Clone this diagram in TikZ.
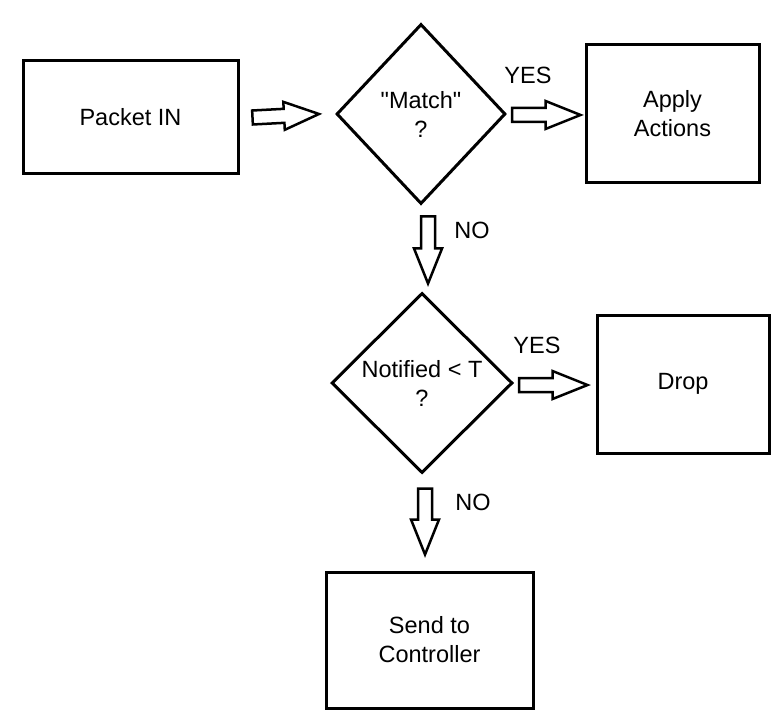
\documentclass[tikz,border=0pt]{standalone}
\usepackage{fontspec}
\setmainfont{Liberation Sans}
\usetikzlibrary{shapes.geometric,calc}

\tikzset{
  txt/.style={font=\fontsize{23.5}{29}\selectfont, align=center},
  block/.style={txt, draw, line width=3pt, inner sep=0pt},
  decision/.style={txt, draw, diamond, line width=3pt, inner sep=0pt},
  fatarrow/.style={draw, fill=white, line width=2.5pt, line join=miter,
    to path={
      ($(\tikztostart)!7pt!90:(\tikztotarget)$)
      -- ($(\tikztotarget)!35pt!(\tikztostart)!7pt!-90:(\tikztostart)$)
      -- ($(\tikztotarget)!35pt!(\tikztostart)!14pt!-90:(\tikztostart)$)
      -- (\tikztotarget)
      -- ($(\tikztotarget)!35pt!(\tikztostart)!14pt!90:(\tikztostart)$)
      -- ($(\tikztotarget)!35pt!(\tikztostart)!7pt!90:(\tikztostart)$)
      -- ($(\tikztostart)!7pt!-90:(\tikztotarget)$)
      -- cycle}},
}

\begin{document}
\begin{tikzpicture}[x=1pt,y=-1pt]
  \useasboundingbox (0,0) rectangle (784,719);

  % Boxes and decisions
  \node[block, minimum width=215pt, minimum height=113pt] (pin) at (130.5,117.5) {Packet IN};
  \node[decision, minimum width=169pt, minimum height=180pt] (match) at (421,114) {\textquotedbl Match\textquotedbl\\?};
  \node[block, minimum width=173pt, minimum height=138pt] (apply) at (672.5,114) {Apply\\Actions};
  \node[decision, minimum width=181pt, minimum height=180pt] (notif) at (422,383) {Notified < T\\?};
  \node[block, minimum width=172pt, minimum height=138pt] (drop) at (683,384) {Drop};
  \node[block, minimum width=207pt, minimum height=136pt] (ctrl) at (429.5,640) {Send to\\Controller};

  % End points of the block arrows (shifts are in canvas pt, up is +)
  \coordinate (a1s) at ([xshift=13]pin.east);
  \coordinate (a1e) at ([xshift=-16]match.west);
  \coordinate (a2s) at ([xshift=5,yshift=-1]match.east);
  \coordinate (a2e) at ([xshift=-4,yshift=-1]apply.west);
  \coordinate (a3s) at ([xshift=7,yshift=-11]match.south);
  \coordinate (a3e) at ([xshift=6,yshift=8]notif.north);
  \coordinate (a4s) at ([xshift=5,yshift=-2]notif.east);
  \coordinate (a4e) at ([xshift=-8,yshift=-1]drop.west);
  \coordinate (a5s) at ([xshift=3,yshift=-14]notif.south);
  \coordinate (a5e) at ([xshift=-4.5,yshift=16]ctrl.north);

  % Block arrows
  \draw[fatarrow] (a1s) to (a1e);
  \draw[fatarrow] (a2s) to (a2e);
  \draw[fatarrow] (a3s) to (a3e);
  \draw[fatarrow] (a4s) to (a4e);
  \draw[fatarrow] (a5s) to (a5e);

  % Answers
  \node[txt] (yes1) at (528,75) {YES};
  \node[txt] (no1) at (472,230) {NO};
  \node[txt] (yes2) at (537,345) {YES};
  \node[txt] (no2) at (473,502) {NO};

\end{tikzpicture}
\end{document}
